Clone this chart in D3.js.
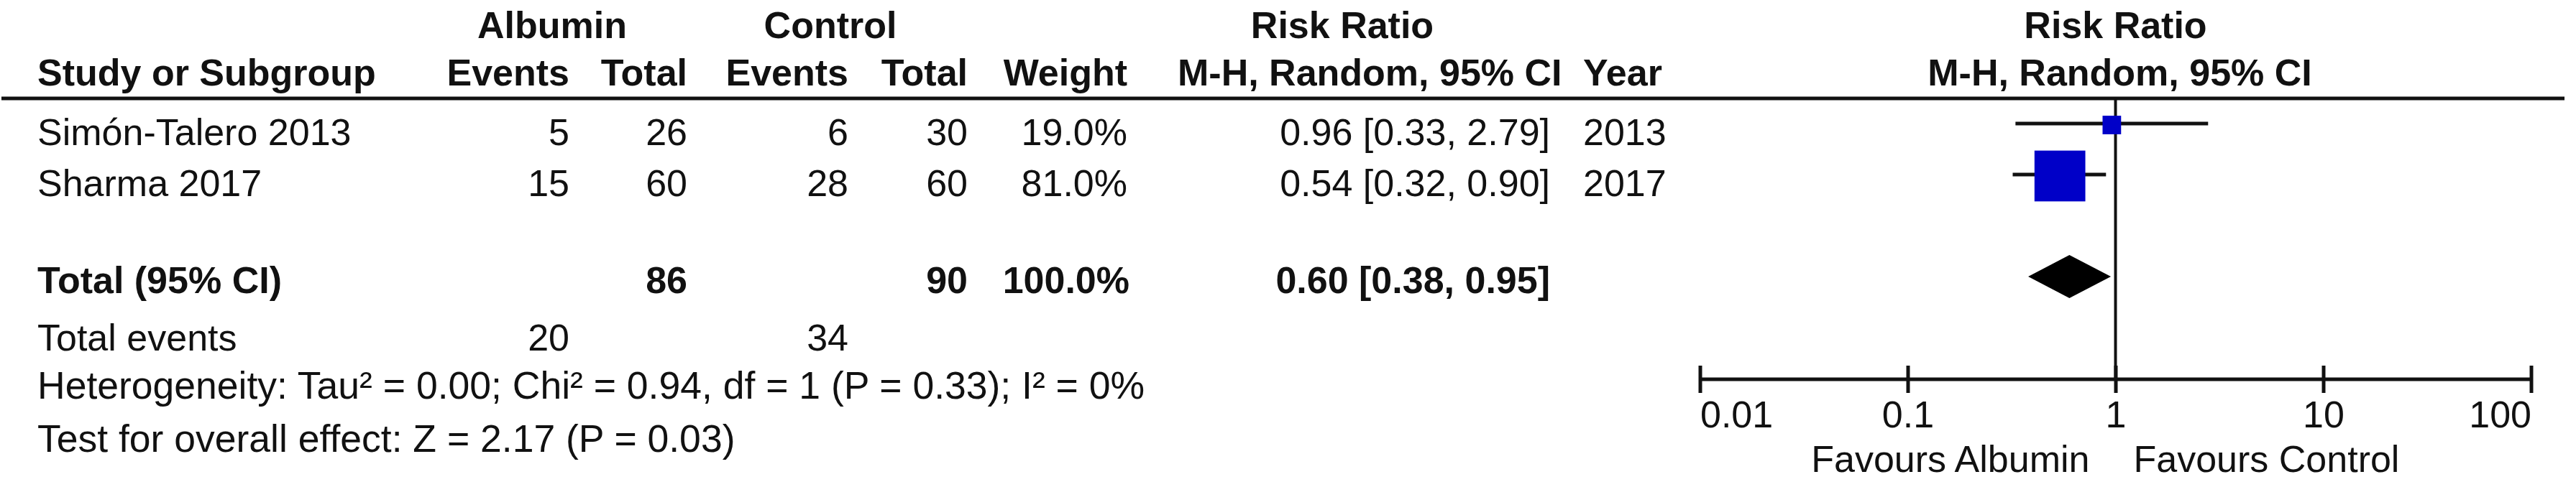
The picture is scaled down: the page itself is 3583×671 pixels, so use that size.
<!DOCTYPE html>
<html>
<head>
<meta charset="utf-8">
<script src="https://cdn.jsdelivr.net/npm/d3@7"></script>
<style>
  html, body { margin: 0; padding: 0; background: #fff; }
  svg { display: block; }
  text { font-family: "Liberation Sans", Arial, sans-serif; fill: #111; }
</style>
</head>
<body>
<svg id="chart" width="3583" height="671"></svg>
<script>
// ---------------- DATA ----------------
const studies   = ["Simón-Talero 2013", "Sharma 2017"];
const albEvents = [5, 15];
const albTotal  = [26, 60];
const ctlEvents = [6, 28];
const ctlTotal  = [30, 60];
const weights   = [19.0, 81.0];
const rr        = [0.96, 0.54];
const rrLower   = [0.33, 0.32];
const rrUpper   = [2.79, 0.90];
const years     = [2013, 2017];

const totalLabel   = "Total (95% CI)";
const totalAlb     = 86;
const totalCtl     = 90;
const totalWeight  = 100.0;
const pooled       = [0.60, 0.38, 0.95]; // estimate, lower, upper
const totalEvents  = [20, 34];
const heterogeneity = "Heterogeneity: Tau\u00B2 = 0.00; Chi\u00B2 = 0.94, df = 1 (P = 0.33); I\u00B2 = 0%";
const overallTest   = "Test for overall effect: Z = 2.17 (P = 0.03)";

const axisTicks  = [0.01, 0.1, 1, 10, 100];
const tickLabels = ["0.01", "0.1", "1", "10", "100"];
const favourLeft  = "Favours Albumin";
const favourRight = "Favours Control";

// ---------------- LAYOUT ----------------
const FS = 52;
const svg = d3.select("#chart");

const yH1 = 53, yH2 = 119, yRule = 137;
const rowBase = [202, 273];
const yTotal = 408, yEvents = 488, yHet = 555, yTest = 629;
const yAxis = 528, tickHalf = 19, yTickLab = 595, yFav = 657;

const col = { study: 52, albE: 792, albT: 956, ctlE: 1180, ctlT: 1346, wt: 1568, ci: 2156, year: 2202 };

const x = d3.scaleLog().domain([0.01, 100]).range([2364.5, 3520.5]);
const boxSize = d3.scaleLinear().domain([0, 100]).range([12, 84.5]);

function txt(s, xx, yy, anchor, bold, size) {
  svg.append("text")
    .attr("x", xx).attr("y", yy)
    .attr("text-anchor", anchor || "start")
    .attr("font-size", size || FS)
    .attr("font-weight", bold ? "bold" : "normal")
    .text(s);
}

// Header row 1
txt("Albumin", 768, yH1, "middle", true);
txt("Control", 1155, yH1, "middle", true);
txt("Risk Ratio", 1867, yH1, "middle", true);
txt("Risk Ratio", x(1), yH1, "middle", true);

// Header row 2
txt("Study or Subgroup", col.study, yH2, "start", true);
txt("Events", col.albE, yH2, "end", true);
txt("Total", col.albT, yH2, "end", true);
txt("Events", col.ctlE, yH2, "end", true);
txt("Total", col.ctlT, yH2, "end", true);
txt("Weight", col.wt, yH2, "end", true);
txt("M-H, Random, 95% CI", 1638, yH2, "start", true);
txt("Year", col.year, yH2, "start", true);
txt("M-H, Random, 95% CI", x(1) + 6, yH2, "middle", true);

// Header rule
svg.append("line")
  .attr("x1", 2).attr("x2", 3567)
  .attr("y1", yRule).attr("y2", yRule)
  .attr("stroke", "#111").attr("stroke-width", 5);

// Study rows
const fmt2 = d3.format(".2f");
const fmtW = d => d3.format(".1f")(d) + "%";
studies.forEach((s, i) => {
  const yb = rowBase[i];
  txt(s, col.study, yb, "start");
  txt(albEvents[i], col.albE, yb, "end");
  txt(albTotal[i], col.albT, yb, "end");
  txt(ctlEvents[i], col.ctlE, yb, "end");
  txt(ctlTotal[i], col.ctlT, yb, "end");
  txt(fmtW(weights[i]), col.wt, yb, "end");
  txt(`${fmt2(rr[i])} [${fmt2(rrLower[i])}, ${fmt2(rrUpper[i])}]`, col.ci, yb, "end");
  txt(years[i], col.year, yb, "start");
});

// Total rows
txt(totalLabel, col.study, yTotal, "start", true);
txt(totalAlb, col.albT, yTotal, "end", true);
txt(totalCtl, col.ctlT, yTotal, "end", true);
txt(fmtW(totalWeight), col.wt + 3, yTotal, "end", true);
txt(`${fmt2(pooled[0])} [${fmt2(pooled[1])}, ${fmt2(pooled[2])}]`, col.ci, yTotal, "end", true);

txt("Total events", col.study, yEvents, "start");
txt(totalEvents[0], col.albE, yEvents, "end");
txt(totalEvents[1], col.ctlE, yEvents, "end");
txt(heterogeneity, col.study, yHet, "start", false, 53.5);
txt(overallTest, col.study, yTest, "start", false, 53.5);

// Vertical line of no effect
svg.append("line")
  .attr("x1", x(1)).attr("x2", x(1))
  .attr("y1", yRule).attr("y2", yAxis)
  .attr("stroke", "#111").attr("stroke-width", 4);

// CI lines and boxes
const markY = rowBase.map(b => b - 30);
const plot = svg.append("g");
plot.selectAll("line.ci").data(studies).join("line")
  .attr("class", "ci")
  .attr("x1", (d, i) => x(rrLower[i]))
  .attr("x2", (d, i) => x(rrUpper[i]))
  .attr("y1", (d, i) => markY[i])
  .attr("y2", (d, i) => markY[i])
  .attr("stroke", "#111").attr("stroke-width", 5);
plot.selectAll("rect.box").data(studies).join("rect")
  .attr("class", "box")
  .attr("x", (d, i) => x(rr[i]) - boxSize(weights[i]) / 2)
  .attr("y", (d, i) => markY[i] + 2 - boxSize(weights[i]) / 2)
  .attr("width", (d, i) => boxSize(weights[i]))
  .attr("height", (d, i) => boxSize(weights[i]))
  .attr("fill", "#0000c8");

// Pooled diamond
const dY = 385, dH = 30;
svg.append("path")
  .attr("d", d3.line()([
    [x(pooled[1]), dY], [x(pooled[0]), dY - dH],
    [x(pooled[2]), dY], [x(pooled[0]), dY + dH]
  ]) + "Z")
  .attr("fill", "#000");

// Axis
const axis = d3.axisBottom(x)
  .tickValues(axisTicks)
  .tickFormat((d, i) => tickLabels[i])
  .tickSizeInner(tickHalf * 2)
  .tickSizeOuter(0);
const ag = svg.append("g")
  .attr("transform", `translate(0,${yAxis - tickHalf})`)
  .call(axis);
ag.select(".domain").remove();
ag.selectAll(".tick line").attr("stroke", "#111").attr("stroke-width", 5);
ag.selectAll(".tick text")
  .attr("y", yTickLab - (yAxis - tickHalf))
  .attr("dy", null)
  .attr("font-size", FS)
  .attr("font-family", "Liberation Sans, Arial, sans-serif")
  .attr("fill", "#111")
  .attr("text-anchor", (d, i) => i === 0 ? "start" : (i === axisTicks.length - 1 ? "end" : "middle"));
svg.append("line")
  .attr("x1", x(axisTicks[0])).attr("x2", x(axisTicks[axisTicks.length - 1]))
  .attr("y1", yAxis).attr("y2", yAxis)
  .attr("stroke", "#111").attr("stroke-width", 5);

txt(favourLeft, x(1) - 36, yFav, "end");
txt(favourRight, x(1) + 25, yFav, "start");
</script>
</body>
</html>
